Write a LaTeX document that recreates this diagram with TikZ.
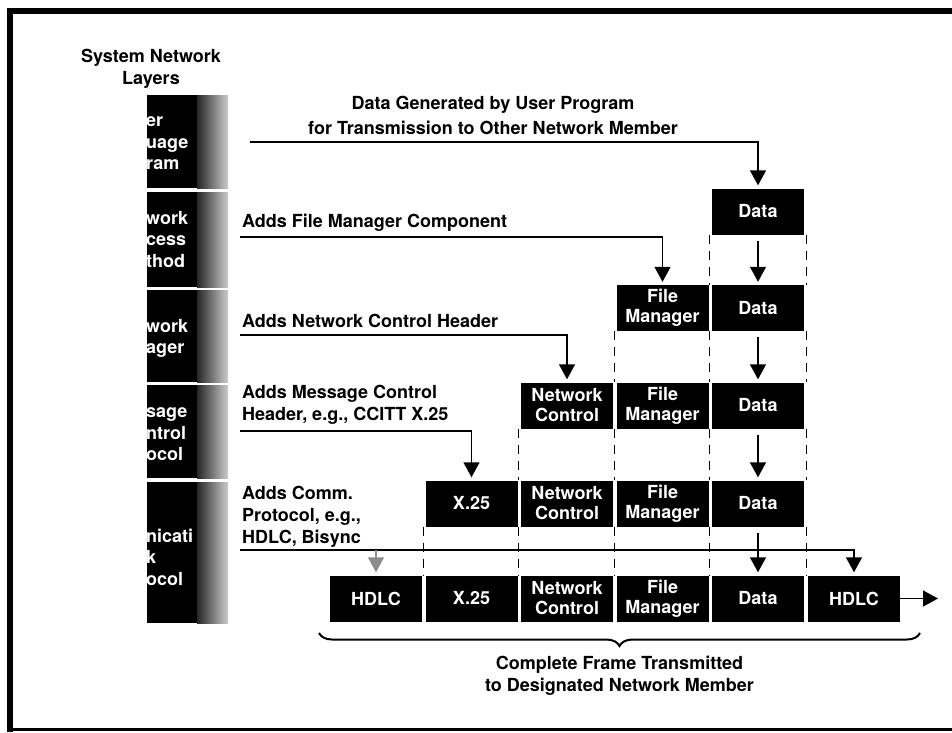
\documentclass[tikz,border=0pt]{standalone}
\usepackage{fontspec}
\setsansfont{TeX Gyre Heros}
\usetikzlibrary{arrows.meta,decorations.pathreplacing}

\def\labelfont{\sffamily\bfseries\fontsize{18}{22}\selectfont}
\def\pktfont{\sffamily\bfseries\fontsize{18}{20}\selectfont}
\def\layfont{\sffamily\bfseries\fontsize{18}{21.5}\selectfont}

\begin{document}
\begin{tikzpicture}[x=1pt,y=-1pt,
    pkt/.style={fill=black,text=white,font=\pktfont,align=center,
      minimum width=92pt,minimum height=46pt,inner sep=0pt},
    feed/.style={line width=1.4pt,-{Triangle[width=16pt,length=15pt]},shorten >=3pt},
    guide/.style={line width=1.2pt,dash pattern=on 9pt off 7pt},
    lbl/.style={anchor=west,align=left,font=\labelfont,inner sep=0pt},
    laytext/.style={anchor=west,align=left,text=white,font=\layfont,inner sep=0pt}]
    \useasboundingbox (0,0) rectangle (952,732);

    % scanned border of the page
    \draw[line width=6pt] (10,732) -- (10,11) -- (952,11);
    \draw[line width=3pt] (10,729.5) -- (952,729.5);

    % the column of network layers
    \node[font=\labelfont,align=center] (head) at (151,69) {System Network\\Layers};
    \foreach \t/\b in {95/188,192/287,290/382,385/478,482/623}{
      \fill (147,\t) rectangle (197,\b);
      \shade[left color=black!85,right color=black!20] (197,\t) rectangle (228,\b);
    }
    \node[laytext] (lay1) at (146,143.5) {er\\uage\\ram};
    \node[laytext] (lay2) at (146,239.5) {work\\cess\\thod};
    \node[laytext] (lay3) at (146,338.5) {work\\ager};
    \node[laytext] (lay4) at (146,434.5) {sage\\ntrol\\ocol};
    \node[laytext] (lay5) at (146,557) {nicati\\k\\ocol};

    % the frame, one row per layer
    \foreach \r/\y in {1/211.5,2/308,3/405.5,4/503.5,5/598.5}
      \node[pkt] (data\r) at (758,\y) {Data};
    \foreach \r/\y in {2/308,3/405.5,4/503.5,5/598.5}
      \node[pkt] (fm\r) at (662.5,\y) {File\\Manager};
    \foreach \r/\y in {3/405.5,4/503.5,5/598.5}
      \node[pkt] (nc\r) at (567,\y) {Network\\Control};
    \foreach \r/\y in {4/503.5,5/598.5}
      \node[pkt] (x\r) at (471.5,\y) {X.25};
    \node[pkt] (hdlcL) at (376,598.5) {HDLC};
    \node[pkt] (hdlcR) at (854,598.5) {HDLC};

    \foreach \a/\b in {1/2,2/3,3/4,4/5}{
      \draw[guide] ([xshift=-2pt]data\a.south west) -- ([xshift=-2pt]data\b.north west);
      \draw[guide] ([xshift=2pt]data\a.south east) -- ([xshift=2pt]data\b.north east);
      \draw[feed] ([yshift=-6pt]data\a.south) -- (data\b);
    }
    \foreach \a/\b in {2/3,3/4,4/5}
      \draw[guide] ([xshift=-2pt]fm\a.south west) -- ([xshift=-2pt]fm\b.north west);
    \foreach \a/\b in {3/4,4/5}
      \draw[guide] ([xshift=-2pt]nc\a.south west) -- ([xshift=-2pt]nc\b.north west);
    \draw[guide] ([xshift=-1.75pt]x4.south west) -- ([xshift=-1.75pt]x5.north west);

    % what each layer adds
    \node[font=\labelfont,align=center] (lblData) at (493,115.5)
      {Data Generated by User Program\\[3pt]for Transmission to Other Network Member};
    \coordinate (s1) at (250,142);
    \draw[feed] (s1) -| (data1);

    \node[lbl] (lblFm) at (242,223) {Adds File Manager Component};
    \coordinate (s2) at (240,237);
    \draw[feed] (s2) -| (fm2);

    \node[lbl] (lblNc) at (242,321) {Adds Network Control Header};
    \coordinate (s3) at (240,335);
    \draw[feed] (s3) -| (nc3);

    \node[lbl] (lblMc) at (242,404.5) {Adds Message Control\\Header, e.g., CCITT X.25};
    \coordinate (s4) at (240,431);
    \draw[feed] (s4) -| (x4);

    \node[lbl] (lblComm) at (242,517) {Adds Comm.\\Protocol, e.g.,\\HDLC, Bisync};
    \coordinate (s5) at (240,550);
    \draw[feed] (s5) -| (hdlcR);
    \draw[feed,black!45] (hdlcL |- s5) -- (hdlcL);

    \coordinate (out) at (938,598.5);
    \draw[feed,shorten >=0pt] (hdlcR) -- (out);

    % the whole frame
    \coordinate (bl) at (319,633);
    \coordinate (br) at (920,633);
    \draw[line width=2pt,decorate,decoration={brace,mirror,amplitude=13pt}] (bl) -- (br);
    \node[font=\labelfont,align=center] (lblFrame) at (619.5,676)
      {Complete Frame Transmitted\\to Designated Network Member};
\end{tikzpicture}
\end{document}
